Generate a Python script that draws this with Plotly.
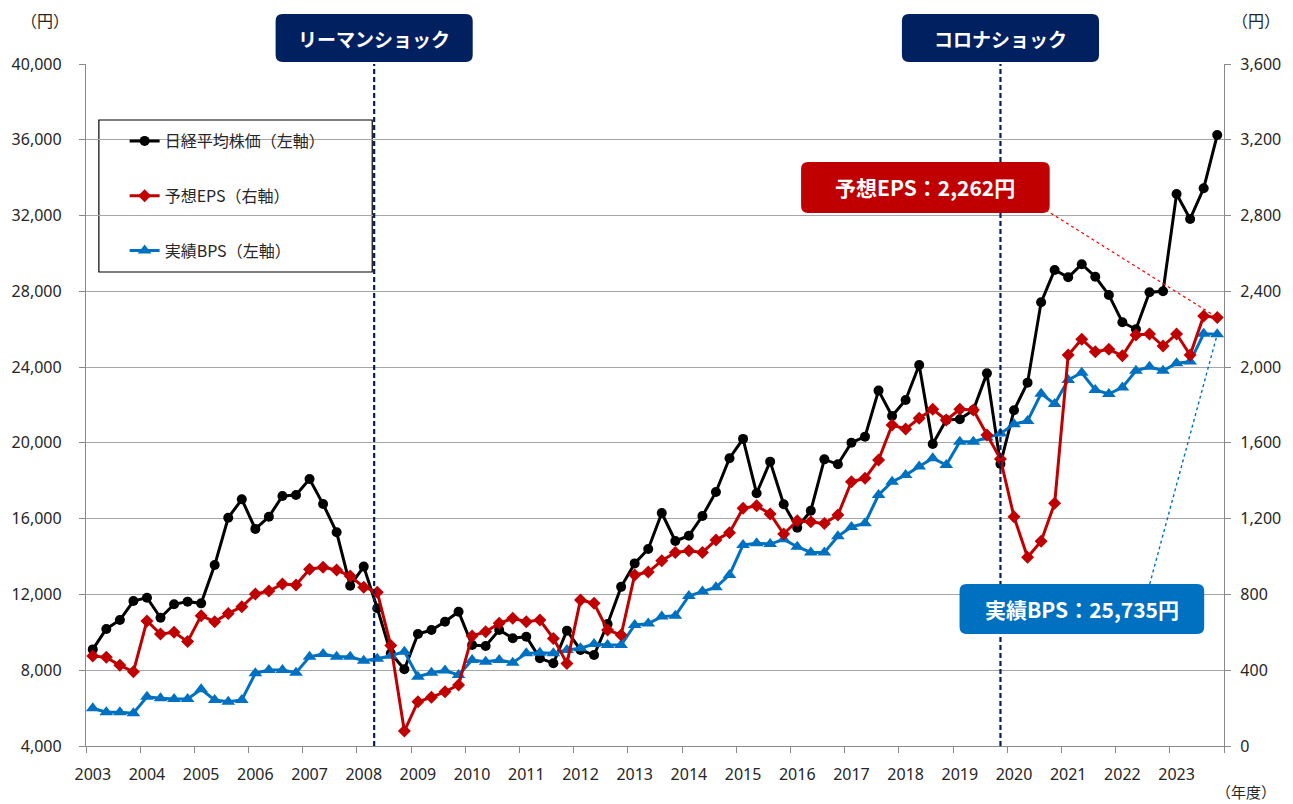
import plotly.graph_objects as go

# ---------------- data (quarterly, FY2003Q1 .. FY2023Q4) ----------------
years = [str(y) for y in range(2003, 2024)]

nikkei = [9100, 10180, 10650, 11650, 11830, 10770, 11480, 11620,
          11530, 13550, 16050, 17020, 15460, 16100, 17200, 17250,
          18090, 16770, 15280, 12460, 13470, 11270, 8900, 8050,
          9910, 10120, 10560, 11090, 9330, 9280, 10120, 9690,
          9770, 8630, 8370, 10090, 9070, 8800, 10440, 12400,
          13640, 14400, 16300, 14820, 15100, 16140, 17410, 19190,
          20210, 17340, 19010, 16760, 15520, 16420, 19130, 18870,
          20010, 20330, 22760, 21420, 22260, 24110, 19940, 21210,
          21250, 21740, 23670, 18890, 21720, 23180, 27420, 29130,
          28740, 29430, 28770, 27810, 26370, 26000, 27950, 28000,
          33140, 31820, 33440, 36250]

eps = [475, 468, 426, 392, 660, 591, 600, 551,
       688, 656, 700, 735, 802, 818, 855, 850,
       933, 943, 929, 897, 838, 812, 530, 79,
       234, 257, 287, 322, 581, 603, 648, 674,
       656, 665, 568, 436, 771, 753, 612, 586,
       903, 918, 978, 1022, 1031, 1022, 1087, 1126,
       1255, 1268, 1225, 1119, 1189, 1184, 1175, 1219,
       1395, 1413, 1510, 1694, 1673, 1730, 1777, 1721,
       1777, 1774, 1642, 1515, 1210, 996, 1081, 1281,
       2064, 2147, 2081, 2094, 2060, 2170, 2175, 2111,
       2175, 2064, 2270, 2262]

bps = [5990, 5780, 5780, 5730, 6600, 6520, 6480, 6480,
       6990, 6430, 6340, 6430, 7840, 8010, 8010, 7870,
       8710, 8860, 8710, 8710, 8500, 8610, 8760, 8980,
       7660, 7870, 7980, 7750, 8540, 8450, 8540, 8400,
       8890, 8920, 8890, 9070, 9160, 9380, 9330, 9330,
       10390, 10460, 10830, 10880, 11920, 12150, 12380, 13030,
       14610, 14700, 14660, 14910, 14520, 14220, 14220, 15070,
       15560, 15760, 17250, 17950, 18300, 18750, 19190, 18830,
       20060, 20060, 20290, 20490, 20990, 21160, 22600, 22050,
       23320, 23700, 22790, 22580, 22930, 23810, 24020, 23810,
       24200, 24290, 25760, 25735]

events = ["リーマンショック", "コロナショック"]
event_pos = [20.77, 67.0]          # position on the quarterly category axis

names = ["日経平均株価（左軸）", "予想EPS（右軸）", "実績BPS（左軸）"]

# ---------------- styling constants ----------------
W, H = 1293, 804
L, R, T, B = 83, 1232, 64, 746          # plot area in pixels
NAVY = "#002060"
RED = "#c00000"
BLUE = "#0070c0"
GRID = "#a6a6a6"
AXIS = "#898989"
TXT = "#262626"
JP = "Noto Sans CJK JP"
NUM = "Noto Sans"

n = len(nikkei)
x = list(range(n))
XR = [-0.5, n - 0.5]
Y1 = [4000, 40000]
Y2 = [0, 3600]


def px(xp):
    return (xp - L) / (R - L)


def py(yp):
    return (B - yp) / (B - T)


def rrect(x0, y0, x1, y1, r):
    pts = [
        ("M", [(x0 + r, y0)]),
        ("L", [(x1 - r, y0)]),
        ("Q", [(x1, y0), (x1, y0 + r)]),
        ("L", [(x1, y1 - r)]),
        ("Q", [(x1, y1), (x1 - r, y1)]),
        ("L", [(x0 + r, y1)]),
        ("Q", [(x0, y1), (x0, y1 - r)]),
        ("L", [(x0, y0 + r)]),
        ("Q", [(x0, y0), (x0 + r, y0)]),
    ]
    s = ""
    for cmd, ps in pts:
        s += cmd + " " + " ".join(f"{px(a):.5f},{py(b):.5f}" for a, b in ps) + " "
    return s + "Z"


def label(xc, yc, text, size, color, bold=False, family=JP):
    return dict(xref="paper", yref="paper", x=px(xc), y=py(yc),
                xanchor="center", yanchor="middle",
                text=f"<b>{text}</b>" if bold else text, showarrow=False,
                font=dict(family=family, size=size, color=color))


fig = go.Figure()

fig.add_trace(go.Scatter(
    x=x, y=nikkei, name=names[0], mode="lines+markers",
    line=dict(color="#000000", width=3),
    marker=dict(symbol="circle", size=10, color="#000000"),
    legendgroup="a", legendrank=1, yaxis="y"))
fig.add_trace(go.Scatter(
    x=x, y=bps, name=names[2], mode="lines+markers",
    line=dict(color=BLUE, width=3),
    marker=dict(symbol="triangle-up", size=12, color=BLUE),
    legendgroup="c", legendrank=3, yaxis="y"))
fig.add_trace(go.Scatter(
    x=x, y=eps, name=names[1], mode="lines+markers",
    line=dict(color=RED, width=3),
    marker=dict(symbol="diamond", size=10, color=RED),
    legendgroup="b", legendrank=2, yaxis="y2"))

shapes = []
annotations = []

# event lines + labels
box_w = 199
for name, pos in zip(events, event_pos):
    shapes.append(dict(type="line", xref="x", yref="paper", x0=pos, x1=pos, y0=0, y1=1,
                       line=dict(color=NAVY, width=2.2, dash="5px,3px"), layer="above"))
    cx = L + (pos - XR[0]) / (XR[1] - XR[0]) * (R - L)
    shapes.append(dict(type="path", xref="paper", yref="paper",
                       path=rrect(cx - box_w / 2, 14, cx + box_w / 2, 62, 7),
                       fillcolor=NAVY, line=dict(width=0), layer="above"))
    annotations.append(label(cx, 38.5, name, 19, "white", bold=True))

# value call-outs
eps_box = (805, 162, 1056, 213)
bps_box = (965, 584, 1212, 634)
shapes.append(dict(type="path", xref="paper", yref="paper", path=rrect(*eps_box, 7),
                   fillcolor=RED, line=dict(width=0), layer="above"))
shapes.append(dict(type="path", xref="paper", yref="paper", path=rrect(*bps_box, 7),
                   fillcolor=BLUE, line=dict(width=0), layer="above"))
annotations.append(label((eps_box[0] + eps_box[2]) / 2, (eps_box[1] + eps_box[3]) / 2,
                         f"予想EPS：{eps[-1]:,}円", 21, "white", bold=True))
annotations.append(label((bps_box[0] + bps_box[2]) / 2, (bps_box[1] + bps_box[3]) / 2,
                         f"実績BPS：{bps[-1]:,}円", 21, "white", bold=True))


def to_xd(xp):
    return XR[0] + (xp - L) / (R - L) * (XR[1] - XR[0])


def to_y(yp, rng):
    return rng[0] + (B - yp) / (B - T) * (rng[1] - rng[0])


shapes.append(dict(type="line", xref="x", yref="y2",
                   x0=to_xd(1052), y0=to_y(210, Y2), x1=x[-1], y1=eps[-1],
                   line=dict(color="#ff0000", width=1.2, dash="dot"), layer="above"))
shapes.append(dict(type="line", xref="x", yref="y",
                   x0=to_xd(1157), y0=to_y(584, Y1), x1=x[-1], y1=bps[-1],
                   line=dict(color=BLUE, width=1.4, dash="dot"), layer="above"))

# legend frame
shapes.append(dict(type="rect", xref="paper", yref="paper",
                   x0=px(96), x1=px(372), y0=py(272), y1=py(120),
                   line=dict(color="#000000", width=1.2), fillcolor="white", layer="below"))

# unit labels
annotations.append(label(42, 20, "（円）", 16, TXT))
annotations.append(label(1264, 20, "（円）", 16, TXT))
annotations.append(label(1254, 791, "（年度）", 15, TXT))

year_idx = list(range(0, n, 4))
fig.update_layout(
    width=W, height=H,
    margin=dict(l=L, r=W - R, t=T, b=H - B, pad=0),
    paper_bgcolor="white", plot_bgcolor="white",
    font=dict(family=NUM, size=16, color=TXT),
    showlegend=True,
    legend=dict(x=px(122), y=py(124), xanchor="left", yanchor="top",
                bgcolor="rgba(0,0,0,0)", borderwidth=0,
                font=dict(family=JP, size=16, color=TXT),
                tracegroupgap=31, itemwidth=30, traceorder="grouped"),
    xaxis=dict(range=XR, tickmode="array", tickvals=year_idx, ticktext=years,
               ticks="", showgrid=False, zeroline=False,
               showline=True, linecolor=AXIS, linewidth=1.3,
               tickfont=dict(family=NUM, size=16, color=TXT),
               ticklabelstandoff=14,
               minor=dict(tickmode="array", tickvals=[v - 0.5 for v in range(0, n + 1, 4)],
                          ticks="outside", ticklen=6, tickcolor=AXIS, tickwidth=1.3,
                          showgrid=False)),
    yaxis=dict(range=Y1, tickmode="array", tickvals=list(range(4000, 40001, 4000)),
               tickformat=",", showgrid=True, gridcolor=GRID, gridwidth=1.3,
               zeroline=False, showline=True, linecolor=AXIS, linewidth=1.3,
               ticks="outside", ticklen=6, tickcolor=AXIS, tickwidth=1.3,
               ticklabelstandoff=14,
               tickfont=dict(family=NUM, size=16, color=TXT)),
    yaxis2=dict(range=Y2, overlaying="y", side="right", tickmode="array",
                tickvals=list(range(0, 3601, 400)), tickformat=",",
                showgrid=False, zeroline=False, showline=True, linecolor=AXIS, linewidth=1.3,
                ticks="outside", ticklen=6, tickcolor=AXIS, tickwidth=1.3,
                ticklabelstandoff=6,
                tickfont=dict(family=NUM, size=16, color=TXT)),
    shapes=shapes,
    annotations=annotations,
)

fig.write_html("out.html", config={"displayModeBar": False},
               post_script="document.body.style.margin='0';document.body.style.overflow='hidden';")
